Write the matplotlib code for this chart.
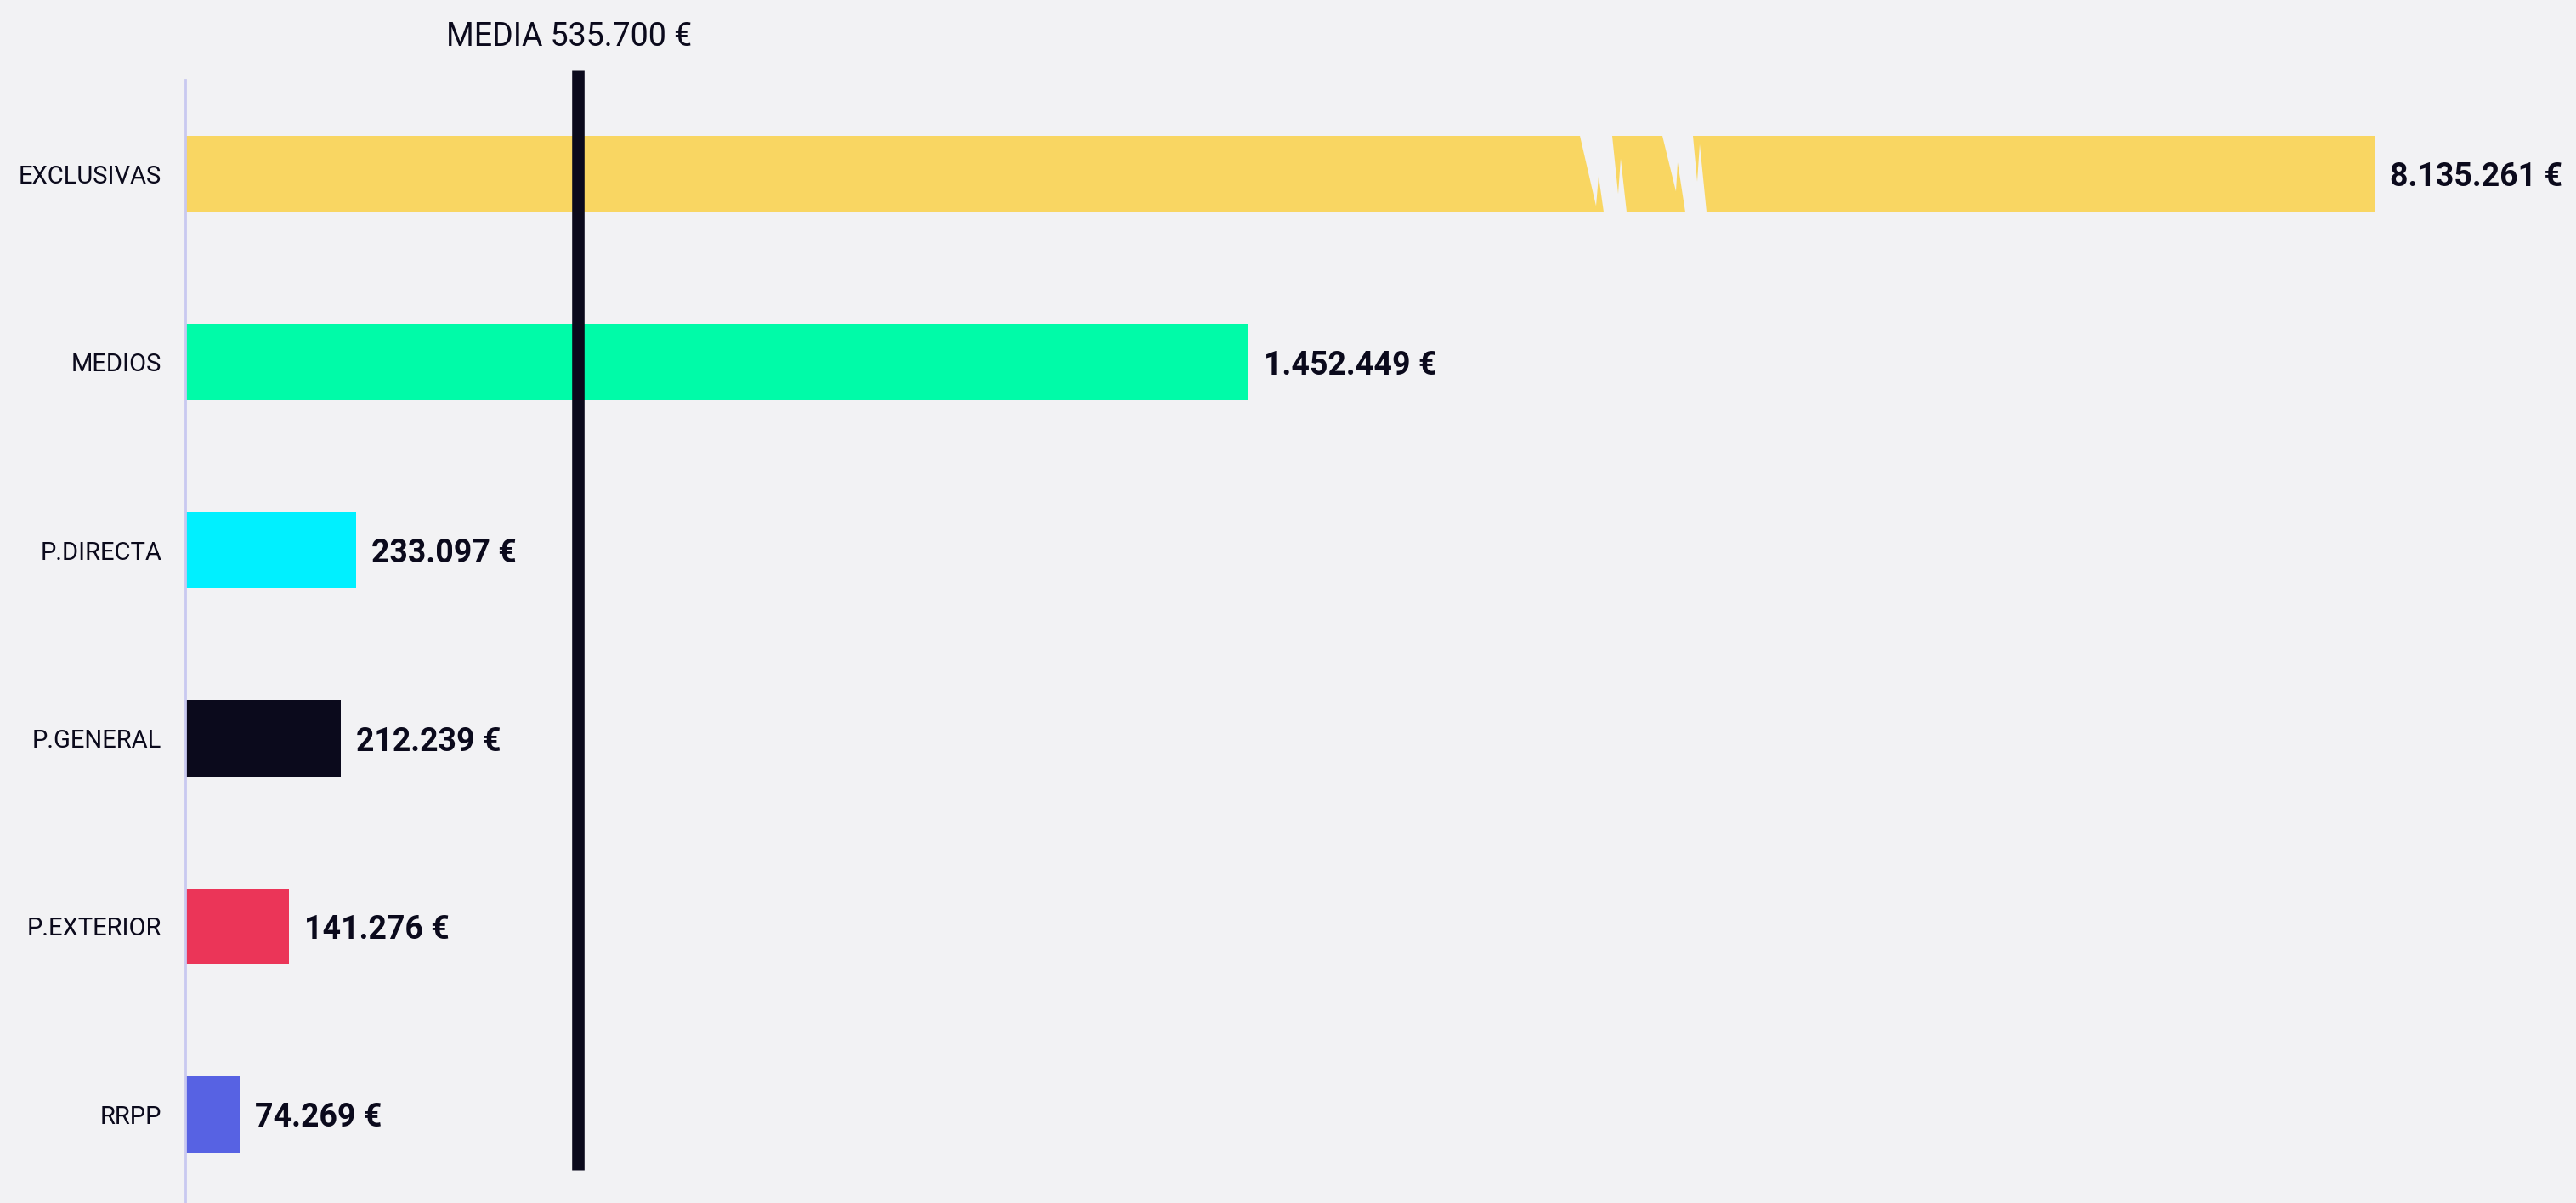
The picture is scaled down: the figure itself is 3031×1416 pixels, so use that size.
#%% Imports
import matplotlib
matplotlib.use('Agg')
import matplotlib.pyplot as plt
from matplotlib.patches import Polygon

#%% Data
categories = ['EXCLUSIVAS', 'MEDIOS', 'P.DIRECTA', 'P.GENERAL', 'P.EXTERIOR', 'RRPP']
values = [8135261, 1452449, 233097, 212239, 141276, 74269]
value_labels = ['8.135.261 €', '1.452.449 €', '233.097 €', '212.239 €', '141.276 €', '74.269 €']
colors = ['#F9D662', '#00FBA8', '#00F0FF', '#0B0A1C', '#EB3558', '#5762E3']
mean_value = 535700
mean_label = 'MEDIA 535.700 €'

#%% Plotting parameters
bg = '#F2F2F4'
ink = '#0B0A1C'
plt.rcParams['font.family'] = ['Roboto', 'DejaVu Sans']
W, H, DPI = 3031, 1416, 100

# the longest bar is drawn cut (broken bar), capped at this value
display_cap = 2990000
x_max = 3265000
bar_h = 0.405

fig = plt.figure(figsize=(W / DPI, H / DPI), dpi=DPI, facecolor=bg)
ax = fig.add_axes([218 / W, 0, 1 - 218 / W, 1 - 94 / H])
ax.set_facecolor(bg)

shown = [min(v, display_cap) for v in values]
y = list(range(len(categories)))
ax.barh(y, shown, height=bar_h, color=colors, zorder=2)

ax.set_xlim(0, x_max)
ax.set_ylim(5.47, -0.5)

# break marks on the capped bar (zig-zag gaps in background colour)
eur_px = x_max / (W - 218)
x0 = 1641 * eur_px
gaps = [
    [(0, 0), (19, 0.92), (22, 0.53), (28, 1.0), (55, 1.0), (48, 0.30), (45, 0.76), (38, 0)],
    [(97, 0), (113, 0.73), (115, 0.35), (124, 1.0), (149, 1.0), (141, 0.11), (138, 0.60), (133, 0)],
]
for i, v in enumerate(values):
    if v > display_cap:
        for g in gaps:
            pts = [(x0 + dx * eur_px, i - bar_h / 2 + f * bar_h) for dx, f in g]
            ax.add_patch(Polygon(pts, closed=True, facecolor=bg, edgecolor='none', zorder=3))

# value labels
for i, (s, lab) in enumerate(zip(shown, value_labels)):
    ax.text(s + 18 * eur_px, i, lab, ha='left', va='center_baseline',
            fontsize=27, fontweight='bold', color=ink, clip_on=False)

# mean line
ax.plot([mean_value, mean_value], [-0.554, 5.293], color=ink, lw=10.5,
        solid_capstyle='butt', zorder=4, clip_on=False)
ax.text(mean_value - 10 * eur_px, -0.68, mean_label, ha='center', va='baseline',
        fontsize=27, color=ink, clip_on=False)

# axes styling
ax.set_yticks(y)
ax.set_yticklabels(categories, fontsize=21, color=ink)
ax.tick_params(axis='y', length=0, pad=20)
ax.set_xticks([])
for side in ['top', 'right', 'bottom']:
    ax.spines[side].set_visible(False)
ax.spines['left'].set_color('#C9C9F0')
ax.spines['left'].set_linewidth(2)

fig.savefig('out.png', dpi=DPI, facecolor=bg)
